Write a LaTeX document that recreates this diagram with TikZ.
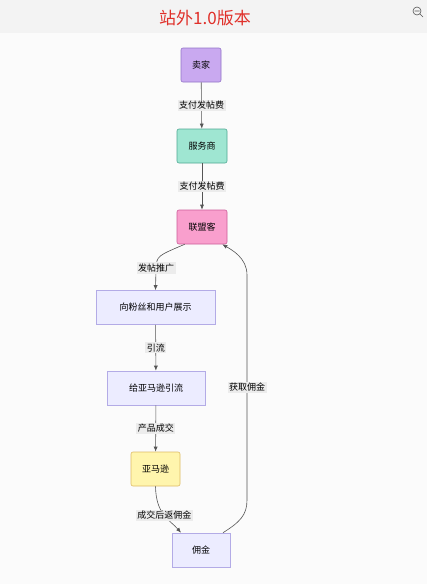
\documentclass[tikz,border=0pt]{standalone}
\usepackage{fontspec}
\setmainfont{Noto Sans CJK SC}
\usetikzlibrary{positioning,arrows.meta}
\definecolor{headbg}{HTML}{F3F3F3}
\definecolor{pagebg}{HTML}{FBFBFB}
\definecolor{titlered}{HTML}{E0302A}
\definecolor{edgegray}{HTML}{555555}
\definecolor{labelbg}{HTML}{ECECEC}
\definecolor{sellerfill}{HTML}{C9A9F0}
\definecolor{sellerline}{HTML}{9374C8}
\definecolor{agencyfill}{HTML}{9FE6D2}
\definecolor{agencyline}{HTML}{4FA893}
\definecolor{affiliatefill}{HTML}{F99FCD}
\definecolor{affiliateline}{HTML}{CC5C99}
\definecolor{flatfill}{HTML}{ECECFF}
\definecolor{flatline}{HTML}{B3ABE6}
\definecolor{amazonfill}{HTML}{FFF5AD}
\definecolor{amazonline}{HTML}{DDBB66}
\begin{document}
\begin{tikzpicture}[
        x=1pt, y=-1pt,
        box/.style={draw, rounded corners=2pt, minimum height=34pt, align=center, font=\fontsize{9}{11}\selectfont, line width=0.6pt},
        flat/.style={draw, minimum height=34pt, align=center, font=\fontsize{9}{11}\selectfont, line width=0.6pt, fill=flatfill, draw=flatline},
        lbl/.style={fill=labelbg, inner sep=1.5pt, font=\fontsize{9}{10}\selectfont},
        link/.style={draw=edgegray, line width=0.6pt, -{Latex[length=5pt,width=4pt]}}
    ]
        % page and header
        \fill[pagebg] (0,0) rectangle (427,584);
        \fill[headbg] (0,0) rectangle (427,33);
        \useasboundingbox (0,0) rectangle (427,584);
        \node[text=titlered, font=\fontsize{17}{20}\selectfont] (title) at (205,18) {站外1.0版本};
        \draw[edgegray, line width=0.6pt] (417,11) circle (4pt) (414.5,11) -- (419.5,11) (420,14) -- (423,17);

        % main chain
        \node[box, fill=sellerfill, draw=sellerline, minimum width=40pt] (seller) at (201,65) {卖家};
        \node[box, fill=agencyfill, draw=agencyline, minimum width=50pt] (agency) at (202,146) {服务商};
        \node[box, fill=affiliatefill, draw=affiliateline, minimum width=50pt] (affiliate) at (202,227) {联盟客};
        \node[flat, minimum width=119pt] (show) at (155.5,307.5) {向粉丝和用户展示};
        \node[flat, minimum width=98pt] (traffic) at (156,388) {给亚马逊引流};
        \node[box, fill=amazonfill, draw=amazonline, minimum width=49pt] (amazon) at (155.5,469) {亚马逊};
        \node[flat, minimum width=58pt] (commission) at (201,550) {佣金};

        % arrows with labels
        \draw[link] (seller) -- node[lbl] {支付发帖费} (agency);
        \draw[link] (agency) -- node[lbl] {支付发帖费} (affiliate);
        \draw[link] ([xshift=8pt]affiliate.south west) .. controls (157,256) .. node[lbl, at end] {发帖推广} (156,268) -- (show.north);
        \draw[link] (show) -- node[lbl] {引流} (traffic);
        \draw[link] (traffic) -- node[lbl] {产品成交} (amazon);
        \draw[link] (amazon.south) .. controls (156,515) and (170,520) .. node[lbl, pos=0.5] {成交后返佣金} ([xshift=-20pt]commission.north);

        % back edge
        \coordinate (bendlow) at (247,500);
        \coordinate (bendhigh) at (247,275);
        \draw[link] ([xshift=22pt]commission.north) .. controls (240,522) and (247,515) .. (bendlow) -- node[lbl] {获取佣金} (bendhigh) .. controls (247,258) and (232,250) .. ([xshift=-5pt]affiliate.south east);
\end{tikzpicture}
\end{document}
